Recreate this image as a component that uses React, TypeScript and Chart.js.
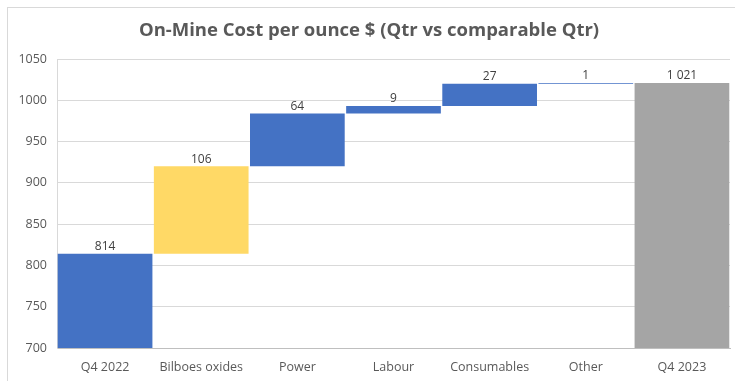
import React, { useEffect, useRef } from "react";
import { Chart, registerables } from "chart.js";

Chart.register(...registerables);

const categories = ["Q4 2022", "Bilboes oxides", "Power", "Labour", "Consumables", "Other", "Q4 2023"];
const changes = [814, 106, 64, 9, 27, 1, 1021];
const kinds = ["total", "up", "up", "up", "up", "up", "total"];
const barColors = ["#4472C4", "#FFD966", "#4472C4", "#4472C4", "#4472C4", "#4472C4", "#A5A5A5"];
const yTicks = [700, 750, 800, 850, 900, 950, 1000, 1050];
const titleText = "On-Mine Cost per ounce $ (Qtr vs comparable Qtr)";

function buildRanges(): [number, number][] {
  const out: [number, number][] = [];
  let run = 0;
  changes.forEach((v, i) => {
    if (kinds[i] === "total") {
      out.push([0, v]);
      run = v;
    } else {
      out.push([run, run + v]);
      run = run + v;
    }
  });
  return out;
}

function fmt(v: number): string {
  return String(v).replace(/\B(?=(\d{3})+(?!\d))/g, " ");
}

const FONT = "'Open Sans', 'DejaVu Sans', sans-serif";

export default function App() {
  const ref = useRef<HTMLCanvasElement | null>(null);
  useEffect(() => {
    if (!ref.current) return;
    const ranges = buildRanges();
    const labelPlugin = {
      id: "wfLabels",
      afterDatasetsDraw(chart: any) {
        const ctx = chart.ctx;
        const meta = chart.getDatasetMeta(0);
        ctx.save();
        ctx.font = `12px ${FONT}`;
        ctx.fillStyle = "#404040";
        ctx.textAlign = "center";
        ctx.textBaseline = "middle";
        meta.data.forEach((bar: any, i: number) => {
          const r = ranges[i];
          const topY = chart.scales.y.getPixelForValue(Math.max(r[0], r[1]));
          ctx.fillText(fmt(changes[i]), bar.x, topY - 7);
        });
        ctx.restore();
      },
    };
    const chart = new Chart(ref.current, {
      type: "bar",
      data: {
        labels: categories,
        datasets: [
          {
            data: ranges as any,
            backgroundColor: barColors,
            borderWidth: 0,
            barPercentage: 0.985,
            categoryPercentage: 1,
            borderSkipped: false,
          },
        ],
      },
      options: {
        animation: false,
        responsive: false,
        maintainAspectRatio: false,
        layout: { padding: { left: 8, right: 5, top: 0, bottom: 0 } },
        plugins: {
          legend: { display: false },
          tooltip: { enabled: false },
          title: {
            display: true,
            text: titleText,
            color: "#595959",
            font: { family: FONT, size: 18.5, weight: "bold" as any, lineHeight: 1.2 },
            padding: { top: 20, bottom: 16.8 },
          },
        },
        scales: {
          x: {
            grid: { display: false, drawTicks: false },
            border: { display: true, color: "#BFBFBF" },
            ticks: { color: "#595959", font: { family: FONT, size: 12.5 }, padding: 12, maxRotation: 0, autoSkip: false },
            afterFit(scale: any) {
              scale.height = 33;
            },
          },
          y: {
            min: 700,
            max: 1050,
            afterBuildTicks(scale: any) {
              scale.ticks = yTicks.map((v) => ({ value: v }));
            },
            grid: { color: "#D9D9D9", drawTicks: false },
            border: { display: true, color: "#D9D9D9" },
            ticks: {
              color: "#595959",
              font: { family: FONT, size: 12.5 },
              padding: 10,
              callback: (v: any) => String(v),
            },
            afterFit(scale: any) {
              scale.width = 49;
            },
          },
        },
      },
      plugins: [labelPlugin],
    });
    return () => chart.destroy();
  }, []);

  return (
    <div style={{ position: "fixed", left: 0, top: 0, width: 735, height: 381, background: "#fff" }}>
      <div
        style={{
          position: "absolute",
          left: 7,
          top: 7,
          width: 740,
          height: 390,
          border: "1px solid #D9D9D9",
          boxSizing: "border-box",
        }}
      />
      <canvas ref={ref} width={735} height={381} style={{ position: "absolute", left: 0, top: 0 }} />
    </div>
  );
}
